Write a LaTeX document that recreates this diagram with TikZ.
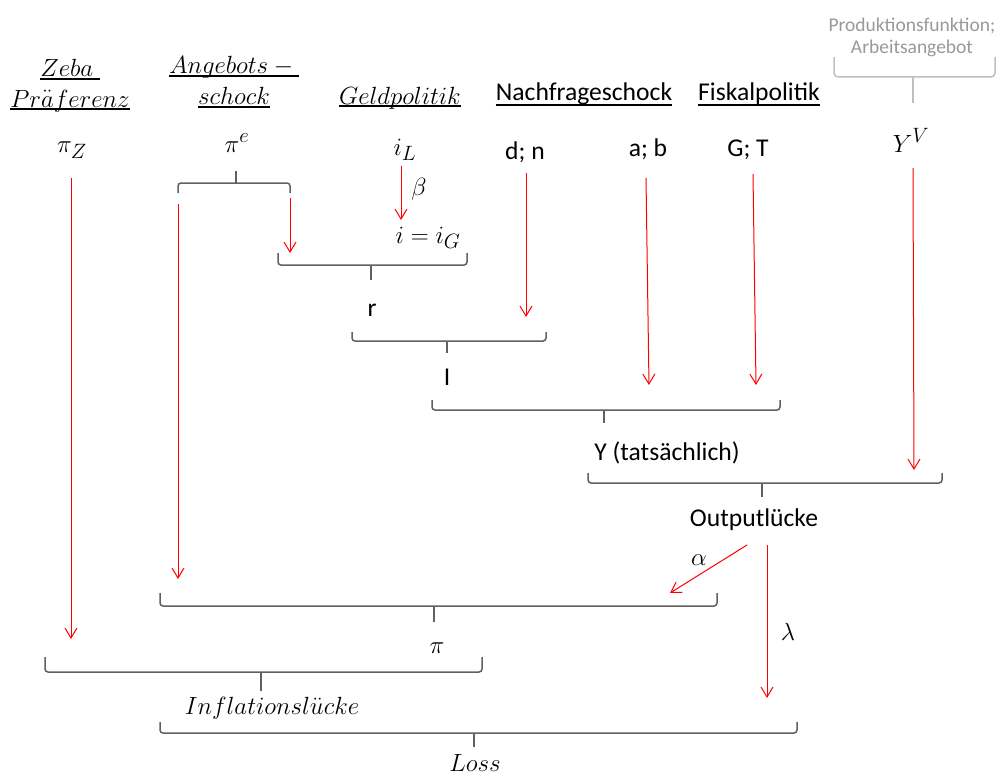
\documentclass[tikz,border=0pt]{standalone}
\usepackage{fontspec}
\setmainfont{Carlito}
\usetikzlibrary{arrows.meta}
\tikzset{
  lbl/.style={font=\fontsize{25.6}{30}\selectfont, inner sep=0pt, anchor=base},
  mth/.style={font=\fontsize{28}{32}\selectfont, inner sep=0pt, anchor=base},
  grey/.style={font=\fontsize{19.5}{24}\selectfont, text=black!40, inner sep=0pt, anchor=base},
  rarr/.style={draw=red, line width=1pt, -{Straight Barb[length=10pt,width=12pt]}},
  brc/.style={draw=black!62, line width=1.5pt, rounded corners=3pt},
  gbrc/.style={draw=black!25, line width=1.5pt, rounded corners=4pt},
  ul/.style={draw=black, line width=1.2pt},
}
\newcommand{\uln}[2]{\draw[ul] ([yshift=-#2pt]#1.base west) -- ([yshift=-#2pt]#1.base east);}
\begin{document}
\begin{tikzpicture}[x=1pt,y=-1pt]
\useasboundingbox (0,0) rectangle (997,776);

% headers
\node[mth] (hz1) at (70,77) {$Zeba\ $};
\node[mth] (hz2) at (70,107) {$Pr\ddot{a}ferenz$};
\node[mth] (ha1) at (234,74) {$Angebots-{}$};
\node[mth] (ha2) at (234,105) {$schock$};
\node[mth] (hg) at (400,104) {$Geldpolitik$};
\node[lbl] (hn) at (584,101) {Nachfrageschock};
\node[lbl] (hf) at (759,101) {Fiskalpolitik};
\uln{hz1}{2}\uln{hz2}{2}\uln{ha1}{2}\uln{ha2}{2}\uln{hg}{2}\uln{hn}{4}\uln{hf}{4}
\node[grey] (hp1) at (912,32) {Produktionsfunktion;};
\node[grey] (hp2) at (912,54) {Arbeitsangebot};
\draw[gbrc] (834,57) -- (834,77) -- (995,77) -- (995,57);
\draw[gbrc] (913,77) -- (913,103);

% variables
\node[mth] (pz) at (72,153) {$\pi_Z$};
\node[mth] (pe) at (237,152) {$\pi^e$};
\node[mth] (il) at (405,155) {$i_L$};
\node[lbl] (dn) at (525,160) {d; n};
\node[lbl] (ab) at (648,157) {a; b};
\node[lbl] (gt) at (748,156) {G; T};
\node[mth] (yv) at (911,152) {$Y^V$};

% pi^e brace (opening down)
\draw[brc] (178,193) -- (178,183) -- (290,183) -- (290,193);
\draw[brc] (236,183) -- (236,171);

% beta
\node[mth] (ig) at (428,243) {$i=i_G$};
\node[mth] (beta) at (419,195) {$\beta$};
\coordinate (b1) at (401,166);
\coordinate (b2) at (401,220);
\draw[rarr] (b1) -- (b2);

% r brace
\draw[rarr] (290,198) -- (290,253);
\draw[brc] (278,253) -- (278,265) -- (467,265) -- (467,253);
\draw[brc] (371,265) -- (371,280);
\node[lbl] (r) at (372,316) {r};

% I brace
\draw[rarr] (526,173) -- (526,317);
\draw[brc] (352,332) -- (352,341) -- (546,341) -- (546,332);
\draw[brc] (447,341) -- (447,353);
\node[lbl] (I) at (447,385) {I};

% Y brace
\draw[rarr] (646,178) -- (649,385);
\draw[rarr] (753,174) -- (756,385);
\draw[brc] (432,400) -- (432,410) -- (780,410) -- (780,400);
\draw[brc] (604,410) -- (604,423);
\node[lbl] (Y) at (667,460) {Y (tatsächlich)};

% Output gap brace
\draw[rarr] (913,168) -- (914,470);
\draw[brc] (588,473) -- (588,483) -- (942,483) -- (942,473);
\draw[brc] (762,483) -- (762,497);
\node[lbl] (og) at (754,526) {Outputlücke};

% alpha, lambda
\draw[rarr] (747,545) -- (670,593);
\node[mth] (alpha) at (699,565) {$\alpha$};
\draw[rarr] (767,545) -- (767,698);
\node[mth] (lambda) at (788,640) {$\lambda$};

% pi brace
\draw[rarr] (71,178) -- (71,639);
\draw[rarr] (178,204) -- (178,579);
\draw[brc] (160,593) -- (160,606) -- (717,606) -- (717,593);
\draw[brc] (434,606) -- (434,622);
\node[mth] (pi) at (437,653) {$\pi$};

% Inflation gap brace
\draw[brc] (45,657) -- (45,672) -- (482,672) -- (482,657);
\draw[brc] (261,672) -- (261,691);
\node[mth] (infl) at (272,714) {$Inflationsl\ddot{u}cke$};

% Loss brace
\draw[brc] (160,722) -- (160,733) -- (797,733) -- (797,722);
\draw[brc] (474,733) -- (474,747);
\node[mth] (loss) at (475,771) {$Loss$};
\end{tikzpicture}
\end{document}
